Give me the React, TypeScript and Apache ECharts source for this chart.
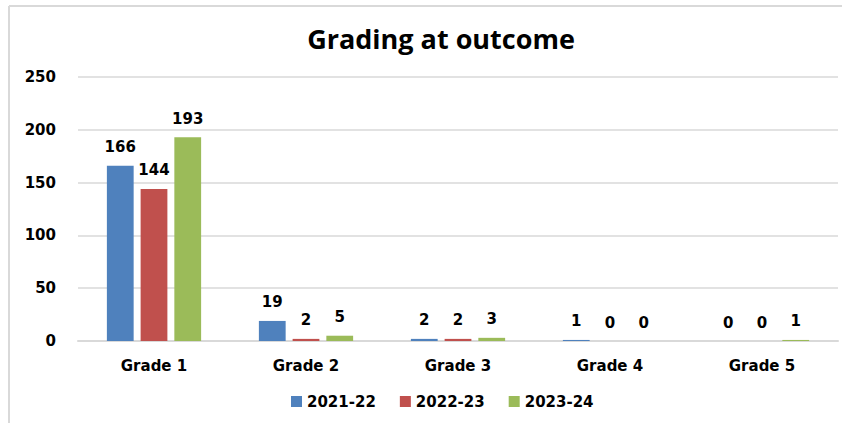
import React, { useEffect, useRef } from "react";
import * as echarts from "echarts";

const categories = ["Grade 1", "Grade 2", "Grade 3", "Grade 4", "Grade 5"];
const seriesNames = ["2021-22", "2022-23", "2023-24"];
const values2021 = [166, 19, 2, 1, 0];
const values2022 = [144, 2, 2, 0, 0];
const values2023 = [193, 5, 3, 0, 1];
const colors = ["#4F81BD", "#C0504D", "#9BBB59"];

export default function App() {
  const ref = useRef<HTMLDivElement>(null);
  useEffect(() => {
    if (!ref.current) return;
    const chart = echarts.init(ref.current, undefined, { renderer: "svg" });
    const font = "'DejaVu Sans', Verdana, sans-serif";
    const data = [values2021, values2022, values2023];
    chart.setOption({
      animation: false,
      backgroundColor: "#ffffff",
      title: {
        text: "Grading at outcome",
        left: 436,
        textAlign: "center",
        top: 20,
        textStyle: { fontFamily: "'Open Sans', Lato, sans-serif", fontWeight: "bold", fontSize: 27, color: "#000" },
      },
      graphic: [
        { type: "line", shape: { x1: 9, y1: 6, x2: 842, y2: 6 }, style: { stroke: "#d9d9d9", lineWidth: 2 } },
        { type: "line", shape: { x1: 9, y1: 6, x2: 9, y2: 423 }, style: { stroke: "#d9d9d9", lineWidth: 2 } },
      ],
      legend: {
        bottom: 9,
        left: 286,
        itemWidth: 11,
        itemHeight: 11,
        itemGap: 24,
        icon: "rect",
        textStyle: { fontFamily: font, fontWeight: "bold", fontSize: 15, color: "#000" },
        data: seriesNames,
      },
      grid: { left: 78, right: 4, top: 77, bottom: 82 },
      xAxis: {
        type: "category",
        data: categories,
        axisLine: { lineStyle: { color: "#d9d9d9", width: 2 } },
        axisTick: { show: false },
        axisLabel: { margin: 17, fontFamily: font, fontWeight: "bold", fontSize: 15, color: "#000" },
      },
      yAxis: {
        type: "value",
        min: 0,
        max: 250,
        interval: 50,
        axisLine: { show: false },
        axisTick: { show: false },
        splitLine: { lineStyle: { color: "#d9d9d9", width: 1.5 } },
        axisLabel: { margin: 22, fontFamily: font, fontWeight: "bold", fontSize: 15, color: "#000" },
      },
      series: seriesNames.map((name, i) => ({
        name,
        type: "bar",
        data: data[i],
        barGap: "26%",
        barCategoryGap: "38%",
        itemStyle: { color: colors[i] },
        label: {
          show: true,
          position: "top",
          distance: 11,
          fontFamily: font,
          fontWeight: "bold",
          fontSize: 15,
          color: "#000",
        },
      })),
    });
    return () => chart.dispose();
  }, []);
  return (
    <div
      ref={ref}
      style={{ position: "absolute", left: 0, top: 0, width: 842, height: 423 }}
    />
  );
}
